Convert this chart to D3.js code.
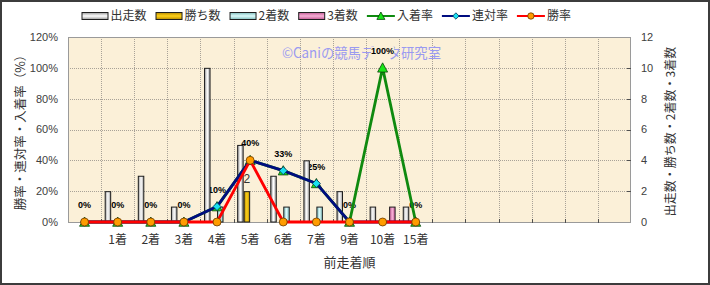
<!DOCTYPE html>
<html>
<head>
<meta charset="utf-8">
<script src="https://cdn.jsdelivr.net/npm/d3@7"></script>
<style>
  body { margin: 0; background: #fff; }
  svg { display: block; }
</style>
</head>
<body>
<div id="chart"></div>
<script>
// --- chart data ---
const categories = ["", "1着", "2着", "3着", "4着", "5着", "6着", "7着", "9着", "10着", "15着"];
const starts   = [0, 2, 3, 1, 10, 5, 3, 4, 2, 1, 1];   // 出走数
const wins     = [0, 0, 0, 0, 0, 2, 0, 0, 0, 0, 0];    // 勝ち数
const seconds  = [0, 0, 0, 0, 1, 0, 1, 1, 0, 0, 0];    // 2着数
const thirds   = [0, 0, 0, 0, 0, 0, 0, 0, 0, 1, 0];    // 3着数
const placeRate  = [0, 0, 0, 0, 10, 40, 33.3, 25, 0, 100, 0]; // 入着率
const rentaiRate = [0, 0, 0, 0, 10, 40, 33.3, 25, 0, 0, 0];   // 連対率
const winRate    = [0, 0, 0, 0, 0, 40, 0, 0, 0, 0, 0];        // 勝率
const leftTicks  = [0, 20, 40, 60, 80, 100, 120];
const rightTicks = [0, 2, 4, 6, 8, 10, 12];
const slotCount = 17; // the category axis has empty slots after 15着

const W = 710, H = 285;
const plot = { left: 68, right: 631, top: 37, bottom: 222 };
const cjk = "'Noto Sans CJK JP', 'Noto Sans', sans-serif";
const plotBg = "#fbf0d8";

const svg = d3.select("#chart").append("svg")
    .attr("width", W).attr("height", H);

const defs = svg.append("defs");
function barGradient(id, edge, mid, vertical) {
    const g = defs.append("linearGradient").attr("id", id)
        .attr("x1", 0).attr("y1", 0)
        .attr("x2", vertical ? 0 : 1).attr("y2", vertical ? 1 : 0);
    g.append("stop").attr("offset", "0%").attr("stop-color", edge);
    g.append("stop").attr("offset", "50%").attr("stop-color", mid);
    g.append("stop").attr("offset", "100%").attr("stop-color", edge);
}

const barSeries = [
    { name: "出走数", values: starts,  edge: "#9a9a9a", mid: "#ffffff" },
    { name: "勝ち数", values: wins,    edge: "#b88a00", mid: "#ffd21a" },
    { name: "2着数",  values: seconds, edge: "#7fbcbc", mid: "#dcfbfb" },
    { name: "3着数",  values: thirds,  edge: "#c25a94", mid: "#f7b0d6" }
];
barSeries.forEach((s, i) => {
    barGradient("bh" + i, s.edge, s.mid, false);
    barGradient("bv" + i, s.edge, s.mid, true);
});

const lineSeries = [
    { name: "入着率", values: placeRate,  color: "#0f8a0f", marker: "triangle", fill: "#19e619", mstroke: "#0a400a" },
    { name: "連対率", values: rentaiRate, color: "#000c80", marker: "diamond",  fill: "#19e0f0", mstroke: "#003050" },
    { name: "勝率",   values: winRate,    color: "#ff0000", marker: "circle",   fill: "#ff9c00", mstroke: "#6a3a00" }
];

// outer frame
svg.append("rect").attr("x", 1).attr("y", 1).attr("width", W - 2).attr("height", H - 2)
    .attr("fill", "#fff").attr("stroke", "#3c3c3c").attr("stroke-width", 2);

// --- scales ---
const x = d3.scaleBand().domain(d3.range(slotCount))
    .range([plot.left, plot.right]).paddingInner(0).paddingOuter(0);
const xSub = d3.scaleBand().domain(d3.range(barSeries.length))
    .range([0, x.bandwidth()]).paddingInner(0).paddingOuter(0.55);
const yL = d3.scaleLinear().domain([0, 120]).range([plot.bottom, plot.top]);
const yR = d3.scaleLinear().domain([0, 12]).range([plot.bottom, plot.top]);
const cx = i => x(i) + x.bandwidth() / 2;

// plot area
svg.append("rect")
    .attr("x", plot.left).attr("y", plot.top)
    .attr("width", plot.right - plot.left).attr("height", plot.bottom - plot.top)
    .attr("fill", plotBg);

// grid lines
const grid = svg.append("g").attr("stroke", "#a8a298").attr("stroke-dasharray", "1,1").attr("stroke-width", 1);
grid.selectAll(".hg").data(leftTicks.slice(1, -1)).enter().append("line")
    .attr("x1", plot.left).attr("x2", plot.right)
    .attr("y1", d => Math.round(yL(d)) + 0.5).attr("y2", d => Math.round(yL(d)) + 0.5);
grid.selectAll(".vg").data(d3.range(1, slotCount)).enter().append("line")
    .attr("x1", d => Math.round(x(d)) + 0.5).attr("x2", d => Math.round(x(d)) + 0.5)
    .attr("y1", plot.top).attr("y2", plot.bottom);

// plot border
svg.append("rect")
    .attr("x", plot.left + 0.5).attr("y", plot.top + 0.5)
    .attr("width", plot.right - plot.left - 1).attr("height", plot.bottom - plot.top)
    .attr("fill", "none").attr("stroke", "#9a9a9a");

// tick marks on bottom and right axes
svg.append("g").attr("stroke", "#505050").selectAll("line")
    .data(d3.range(1, slotCount)).enter().append("line")
    .attr("x1", d => Math.round(x(d)) + 0.5).attr("x2", d => Math.round(x(d)) + 0.5)
    .attr("y1", plot.bottom - 3).attr("y2", plot.bottom + 1);
svg.append("g").attr("stroke", "#505050").selectAll("line")
    .data(rightTicks.slice(1, -1)).enter().append("line")
    .attr("x1", plot.right - 4).attr("x2", plot.right)
    .attr("y1", d => Math.round(yR(d)) + 0.5).attr("y2", d => Math.round(yR(d)) + 0.5);

// watermark
svg.append("text")
    .attr("x", 282).attr("y", 58)
    .attr("font-family", cjk).attr("font-size", 14)
    .attr("fill", "#9a9af0")
    .attr("textLength", 159).attr("lengthAdjust", "spacingAndGlyphs")
    .text("©Caniの競馬データ研究室");

// data labels for 入着率 (behind the bars, as in the reference)
const fmt = d3.format(".0f");
const labels = svg.append("g");
placeRate.forEach((v, i) => {
    const g = labels.append("g");
    const t = g.append("text")
        .attr("x", cx(i)).attr("y", yL(v) - 17).attr("dy", "0.35em")
        .attr("text-anchor", "middle")
        .attr("font-family", "'Liberation Sans', Arial, sans-serif")
        .attr("font-weight", "bold").attr("font-size", 9)
        .attr("fill", "#000")
        .text(fmt(v) + "%");
    const bb = t.node().getBBox();
    g.insert("rect", "text")
        .attr("x", bb.x).attr("y", bb.y + 1).attr("width", bb.width).attr("height", bb.height - 2)
        .attr("fill", plotBg);
});

// bars
barSeries.forEach((s, si) => {
    svg.append("g").selectAll("rect")
        .data(s.values.map((v, i) => ({ v, i })).filter(d => d.v > 0))
        .enter().append("rect")
        .attr("x", d => x(d.i) + xSub(si) + 0.5)
        .attr("y", d => yR(d.v) + 0.5)
        .attr("width", xSub.bandwidth() - 1)
        .attr("height", d => yR(0) - yR(d.v) - 0.5)
        .attr("fill", `url(#bh${si})`)
        .attr("stroke", "#1e1e1e").attr("stroke-width", 1);
});

// value label on the 勝ち数 bar
wins.forEach((v, i) => {
    if (v <= 0) return;
    svg.append("text")
        .attr("x", x(i) + xSub(1) + xSub.bandwidth() / 2)
        .attr("y", yR(v) - 12).attr("dy", "0.35em")
        .attr("text-anchor", "middle")
        .attr("font-family", "'Liberation Sans', Arial, sans-serif").attr("font-size", 12)
        .attr("fill", "#333")
        .text(v);
});

// markers
function drawMarker(g, type, px, py, fill, stroke, scale) {
    const k = scale || 1;
    if (type === "circle") {
        g.append("circle").attr("cx", px).attr("cy", py).attr("r", 4 * k)
            .attr("fill", fill).attr("stroke", stroke).attr("stroke-width", 0.8);
    } else if (type === "diamond") {
        const r = 4 * k;
        g.append("path").attr("d", `M${px},${py - r}L${px + r},${py}L${px},${py + r}L${px - r},${py}Z`)
            .attr("fill", fill).attr("stroke", stroke).attr("stroke-width", 0.8);
    } else {
        const r = 5 * k;
        g.append("path").attr("d", `M${px},${py - r}L${px + r},${py + r * 0.85}L${px - r},${py + r * 0.85}Z`)
            .attr("fill", fill).attr("stroke", stroke).attr("stroke-width", 0.8);
    }
}

const line = d3.line().x((d, i) => cx(i)).y(d => yL(d));
lineSeries.forEach(s => {
    const g = svg.append("g");
    g.append("path").datum(s.values)
        .attr("d", line).attr("fill", "none")
        .attr("stroke", s.color).attr("stroke-width", 2.8).attr("stroke-linejoin", "round");
    s.values.forEach((v, i) => drawMarker(g, s.marker, cx(i), yL(v), s.fill, s.mstroke));
});

// --- axes text ---
const tickFont = "'Liberation Sans', Arial, sans-serif";
svg.append("g").selectAll("text").data(leftTicks).enter().append("text")
    .attr("x", 58).attr("y", d => yL(d)).attr("dy", "0.35em")
    .attr("text-anchor", "end").attr("font-family", tickFont).attr("font-size", 11)
    .attr("fill", "#404040").text(d => d + "%");
svg.append("g").selectAll("text").data(rightTicks).enter().append("text")
    .attr("x", 641).attr("y", d => yR(d)).attr("dy", "0.35em")
    .attr("text-anchor", "start").attr("font-family", tickFont).attr("font-size", 11)
    .attr("fill", "#404040").text(d => d);
svg.append("g").selectAll("text").data(categories).enter().append("text")
    .attr("x", (d, i) => cx(i)).attr("y", 240).attr("dy", "0.35em")
    .attr("text-anchor", "middle").attr("font-family", cjk).attr("font-size", 12)
    .attr("fill", "#333").text(d => d);

svg.append("text")
    .attr("x", (plot.left + plot.right) / 2).attr("y", 262).attr("dy", "0.35em")
    .attr("text-anchor", "middle").attr("font-family", cjk).attr("font-size", 13)
    .attr("fill", "#333").text("前走着順");
svg.append("text")
    .attr("transform", `translate(21,${(plot.top + plot.bottom) / 2 + 0}) rotate(-90)`)
    .attr("dy", "0.35em").attr("text-anchor", "middle")
    .attr("font-family", cjk).attr("font-size", 12.5).attr("fill", "#333")
    .text("勝率・連対率・入着率（%）");
svg.append("text")
    .attr("transform", `translate(671,${(plot.top + plot.bottom) / 2 + 2}) rotate(-90)`)
    .attr("dy", "0.35em").attr("text-anchor", "middle")
    .attr("font-family", cjk).attr("font-size", 12).attr("fill", "#333")
    .text("出走数・勝ち数・2着数・3着数");

// --- legend ---
const legend = svg.append("g").attr("transform", "translate(0,16)");
let lx = 81.5;
barSeries.forEach((s, i) => {
    legend.append("rect").attr("x", lx + 0.5).attr("y", -3.5).attr("width", 26).attr("height", 7)
        .attr("fill", `url(#bv${i})`).attr("stroke", "#1e1e1e");
    const t = legend.append("text").attr("x", lx + 29).attr("y", 0).attr("dy", "0.35em")
        .attr("font-family", cjk).attr("font-size", 12).attr("fill", "#333").text(s.name);
    lx += 29 + t.node().getComputedTextLength() + 9;
});
lineSeries.forEach(s => {
    legend.append("line").attr("x1", lx).attr("x2", lx + 28).attr("y1", 0).attr("y2", 0)
        .attr("stroke", s.color).attr("stroke-width", 2);
    drawMarker(legend, s.marker, lx + 14, 0, s.fill, s.mstroke, 0.8);
    const t = legend.append("text").attr("x", lx + 30).attr("y", 0).attr("dy", "0.35em")
        .attr("font-family", cjk).attr("font-size", 12).attr("fill", "#333").text(s.name);
    lx += 30 + t.node().getComputedTextLength() + 9;
});
</script>
</body>
</html>
